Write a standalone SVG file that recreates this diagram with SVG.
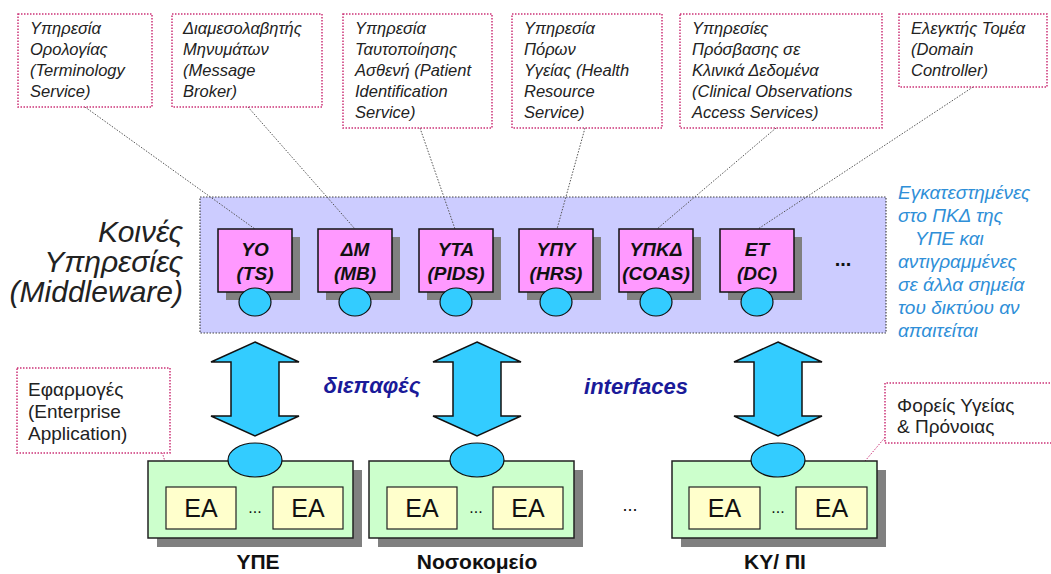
<svg xmlns="http://www.w3.org/2000/svg" width="1051" height="574" viewBox="0 0 1051 574">
<style>
text{font-family:"Liberation Sans",Arial,sans-serif}
.call{fill:#fff;stroke:#cc3377;stroke-width:1.5;stroke-dasharray:1.5 1.5}
.ct{font-size:16.5px;font-style:italic;fill:#222}
.cr{font-size:19px;fill:#222}
.lead{fill:none;stroke:#555;stroke-width:1;stroke-dasharray:1.5 1.5}
.pl{fill:none;stroke:#cc3377;stroke-width:1;stroke-dasharray:1.5 1.5}
.svc{fill:#ff99ff;stroke:#111;stroke-width:1.5}
.sh{fill:#808080}
.st{font-size:19px;font-weight:bold;font-style:italic;fill:#111;text-anchor:middle}
.port{fill:#33ccff;stroke:#111;stroke-width:1.2}
.org{fill:#ccffcc;stroke:#222;stroke-width:1.5}
.ea{fill:#ffffcc;stroke:#222;stroke-width:1.2}
.eat{font-size:25px;fill:#111;text-anchor:middle}
.dots{font-size:16px;fill:#111;text-anchor:middle}
.arr{fill:#33ccff;stroke:#111;stroke-width:1.5;stroke-linejoin:miter}
.lbl{font-size:21px;font-weight:bold;fill:#111;text-anchor:middle}
.blue{font-size:19px;font-style:italic;fill:#2f8fd8}
.ifc{font-size:22px;font-weight:bold;font-style:italic;fill:#1a1a99;text-anchor:middle}
.big{font-size:30px;font-style:italic;fill:#222;text-anchor:end}
</style>

<!-- Middleware panel -->
<g id="middleware">
<rect x="200" y="197" width="686" height="136" fill="#ccccff" stroke="#444" stroke-width="1.2" stroke-dasharray="1.5 1.5"/>
<text class="big" x="183" y="242">Κοινές</text>
<text class="big" x="183" y="272">Υπηρεσίες</text>
<text class="big" x="183" y="302">(Middleware)</text>
<text x="843" y="266" font-size="20" font-weight="bold" fill="#111" text-anchor="middle">...</text>
</g>

<!-- Connectors -->
<g id="connectors">
<line class="lead" x1="85" y1="107" x2="255" y2="229"/>
<line class="lead" x1="248" y1="107" x2="355" y2="229"/>
<line class="lead" x1="420" y1="128" x2="455" y2="229"/>
<line class="lead" x1="585" y1="128" x2="557" y2="229"/>
<line class="lead" x1="776" y1="128" x2="657" y2="229"/>
<line class="lead" x1="973" y1="87" x2="758" y2="229"/>
<line class="pl" x1="157" y1="435" x2="175" y2="495"/>
<line class="pl" x1="893" y1="428" x2="860" y2="467"/>
<path class="arr" d="M255,342 L299,362 L279,362 L279,416 L299,416 L255,436 L211,416 L231,416 L231,362 L211,362 Z"/>
<path class="arr" d="M477,342 L521,362 L501,362 L501,416 L521,416 L477,436 L433,416 L453,416 L453,362 L433,362 Z"/>
<path class="arr" d="M778,342 L822,362 L802,362 L802,416 L822,416 L778,436 L734,416 L754,416 L754,362 L734,362 Z"/>
</g>

<!-- Top callouts -->
<g id="callout-ts">
<rect class="call" x="18" y="14" width="134" height="93"/>
<text class="ct" x="30" y="34">Υπηρεσία</text>
<text class="ct" x="30" y="55">Ορολογίας</text>
<text class="ct" x="30" y="76">(Terminology</text>
<text class="ct" x="30" y="97">Service)</text>
</g>
<g id="callout-mb">
<rect class="call" x="172" y="14" width="150" height="93"/>
<text class="ct" x="183" y="34">Διαμεσολαβητής</text>
<text class="ct" x="183" y="55">Μηνυμάτων</text>
<text class="ct" x="183" y="76">(Message</text>
<text class="ct" x="183" y="97">Broker)</text>
</g>
<g id="callout-pids">
<rect class="call" x="343" y="14" width="149" height="114"/>
<text class="ct" x="355" y="34">Υπηρεσία</text>
<text class="ct" x="355" y="55">Ταυτοποίησης</text>
<text class="ct" x="355" y="76">Ασθενή (Patient</text>
<text class="ct" x="355" y="97">Identification</text>
<text class="ct" x="355" y="118">Service)</text>
</g>
<g id="callout-hrs">
<rect class="call" x="512" y="14" width="150" height="114"/>
<text class="ct" x="524" y="34">Υπηρεσία</text>
<text class="ct" x="524" y="55">Πόρων</text>
<text class="ct" x="524" y="76">Υγείας (Health</text>
<text class="ct" x="524" y="97">Resource</text>
<text class="ct" x="524" y="118">Service)</text>
</g>
<g id="callout-coas">
<rect class="call" x="680" y="14" width="202" height="114"/>
<text class="ct" x="692" y="34">Υπηρεσίες</text>
<text class="ct" x="692" y="55">Πρόσβασης σε</text>
<text class="ct" x="692" y="76">Κλινικά Δεδομένα</text>
<text class="ct" x="692" y="97">(Clinical Observations</text>
<text class="ct" x="692" y="118">Access Services)</text>
</g>
<g id="callout-dc">
<rect class="call" x="899" y="14" width="148" height="73"/>
<text class="ct" x="911" y="34">Ελεγκτής Τομέα</text>
<text class="ct" x="911" y="55">(Domain</text>
<text class="ct" x="911" y="76">Controller)</text>
</g>

<!-- Service nodes -->
<g id="svc-ts">
<rect class="sh" x="226" y="237" width="74" height="63"/>
<rect class="svc" x="218" y="229" width="74" height="63"/>
<text class="st" x="255" y="256">ΥΟ</text><text class="st" x="255" y="280">(TS)</text>
<ellipse class="port" cx="255" cy="302" rx="16" ry="14"/>
</g>
<g id="svc-mb">
<rect class="sh" x="326" y="237" width="74" height="63"/>
<rect class="svc" x="318" y="229" width="74" height="63"/>
<text class="st" x="355" y="256">ΔΜ</text><text class="st" x="355" y="280">(MB)</text>
<ellipse class="port" cx="355" cy="302" rx="16" ry="14"/>
</g>
<g id="svc-pids">
<rect class="sh" x="427" y="237" width="74" height="63"/>
<rect class="svc" x="419" y="229" width="74" height="63"/>
<text class="st" x="456" y="256">ΥΤΑ</text><text class="st" x="456" y="280">(PIDS)</text>
<ellipse class="port" cx="456" cy="302" rx="16" ry="14"/>
</g>
<g id="svc-hrs">
<rect class="sh" x="527" y="237" width="74" height="63"/>
<rect class="svc" x="519" y="229" width="74" height="63"/>
<text class="st" x="556" y="256">ΥΠΥ</text><text class="st" x="556" y="280">(HRS)</text>
<ellipse class="port" cx="556" cy="302" rx="16" ry="14"/>
</g>
<g id="svc-coas">
<rect class="sh" x="627" y="237" width="74" height="63"/>
<rect class="svc" x="619" y="229" width="74" height="63"/>
<text class="st" x="656" y="256">ΥΠΚΔ</text><text class="st" x="656" y="280">(COAS)</text>
<ellipse class="port" cx="656" cy="302" rx="16" ry="14"/>
</g>
<g id="svc-dc">
<rect class="sh" x="728" y="237" width="74" height="63"/>
<rect class="svc" x="720" y="229" width="74" height="63"/>
<text class="st" x="757" y="256">ΕΤ</text><text class="st" x="757" y="280">(DC)</text>
<ellipse class="port" cx="757" cy="302" rx="16" ry="14"/>
</g>

<!-- Right blue note -->
<g id="note">
<text class="blue" x="898" y="199">Εγκατεστημένες</text>
<text class="blue" x="898" y="222">στο ΠΚΔ της</text>
<text class="blue" x="915" y="245">ΥΠΕ και</text>
<text class="blue" x="898" y="268">αντιγραμμένες</text>
<text class="blue" x="898" y="291">σε άλλα σημεία</text>
<text class="blue" x="898" y="314">του δικτύου αν</text>
<text class="blue" x="898" y="337">απαιτείται</text>
</g>

<!-- Interface labels -->
<text class="ifc" x="372" y="393">διεπαφές</text>
<text class="ifc" x="636" y="394">interfaces</text>

<!-- Bottom callouts -->
<g id="callout-ea">
<rect class="call" x="17" y="368" width="153" height="85"/>
<text class="cr" x="28" y="396">Εφαρμογές</text>
<text class="cr" x="28" y="418">(Enterprise</text>
<text class="cr" x="28" y="440">Application)</text>
</g>
<g id="callout-org">
<path class="call" d="M1053,383 L885,383 L885,443 L1053,443"/>
<text class="cr" x="897" y="412">Φορείς Υγείας</text>
<text class="cr" x="897" y="433">&amp; Πρόνοιας</text>
</g>

<!-- Organisations -->
<g id="org-ype">
<rect class="sh" x="157" y="470" width="205" height="77"/>
<rect class="org" x="148" y="461" width="205" height="77"/>
<ellipse class="port" cx="255" cy="460" rx="27" ry="17"/>
<rect class="ea" x="166" y="487" width="70" height="42"/>
<text class="eat" x="201" y="517">ΕΑ</text>
<text class="dots" x="255" y="513">...</text>
<rect class="ea" x="273" y="487" width="70" height="42"/>
<text class="eat" x="308" y="517">ΕΑ</text>
<text class="lbl" x="258" y="569">ΥΠΕ</text>
</g>
<g id="org-hospital">
<rect class="sh" x="378" y="470" width="205" height="77"/>
<rect class="org" x="369" y="461" width="205" height="77"/>
<ellipse class="port" cx="477" cy="460" rx="27" ry="17"/>
<rect class="ea" x="387" y="487" width="70" height="42"/>
<text class="eat" x="422" y="517">ΕΑ</text>
<text class="dots" x="476" y="513">...</text>
<rect class="ea" x="493" y="487" width="70" height="42"/>
<text class="eat" x="528" y="517">ΕΑ</text>
<text class="lbl" x="477" y="569">Νοσοκομείο</text>
</g>
<text x="630" y="511" font-size="18" fill="#111" text-anchor="middle">...</text>
<g id="org-ky">
<rect class="sh" x="681" y="470" width="205" height="77"/>
<rect class="org" x="672" y="461" width="205" height="77"/>
<ellipse class="port" cx="778" cy="460" rx="27" ry="17"/>
<rect class="ea" x="689" y="487" width="71" height="42"/>
<text class="eat" x="724.500" y="517">ΕΑ</text>
<text class="dots" x="778" y="513">...</text>
<rect class="ea" x="796" y="487" width="71" height="42"/>
<text class="eat" x="831.500" y="517">ΕΑ</text>
<text class="lbl" x="775" y="569">ΚΥ/ ΠΙ</text>
</g>
</svg>
